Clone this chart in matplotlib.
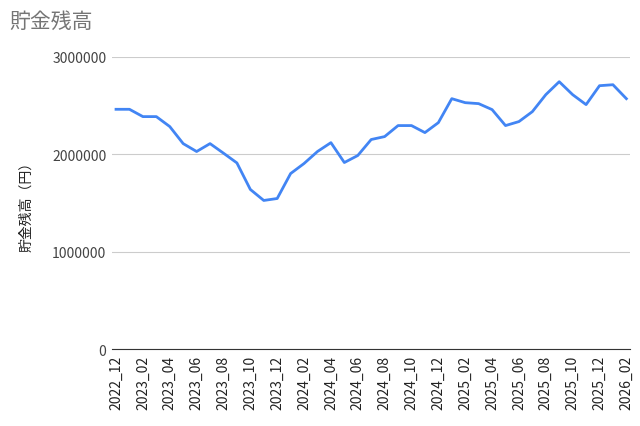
import matplotlib
matplotlib.use("Agg")
import matplotlib.pyplot as plt

plt.rcParams["font.family"] = ["Noto Sans CJK JP", "DejaVu Sans"]

months = []
for y in range(2022, 2027):
    for m in range(1, 13):
        if (y, m) >= (2022, 12) and (y, m) <= (2026, 2):
            months.append(f"{y}_{m:02d}")

balance = [
    2460000, 2460000, 2385000, 2385000, 2283000, 2108000, 2027000, 2108000,
    2010000, 1910000, 1638000, 1525000, 1545000, 1801000, 1904000, 2027000,
    2118000, 1914000, 1986000, 2150000, 2180000, 2293000, 2293000, 2221000,
    2323000, 2569000, 2528000, 2518000, 2457000, 2293000, 2334000, 2436000,
    2610000, 2743000, 2610000, 2508000, 2702000, 2712000, 2569000,
]

fig, ax = plt.subplots(figsize=(6.4, 4.27), dpi=100)
x = list(range(len(months)))
ax.plot(x, balance, color="#4285f4", linewidth=2)
ax.set_ylim(0, 3000000)
ax.set_yticks([0, 1000000, 2000000, 3000000])
ax.set_yticklabels(["0", "1000000", "2000000", "3000000"], color="#444444", fontsize=10)
ax.set_xticks(x[::2])
ax.set_xticklabels(months[::2], rotation=90, fontsize=10, color="#222222")
ax.set_xlim(-0.3, len(months) - 0.7)
ax.grid(axis="y", color="#cccccc", linewidth=0.8)
ax.set_axisbelow(True)
for s in ["top", "right", "left"]:
    ax.spines[s].set_visible(False)
ax.spines["bottom"].set_color("#333333")
ax.tick_params(axis="both", length=0, pad=4)
ax.set_ylabel("貯金残高（円）", fontsize=10, color="#222222", labelpad=14)
fig.text(0.015, 0.948, "貯金残高", fontsize=15, color="#757575", va="center")
fig.subplots_adjust(left=0.175, right=0.985, top=0.865, bottom=0.18)
fig.savefig("out.png", dpi=100)
